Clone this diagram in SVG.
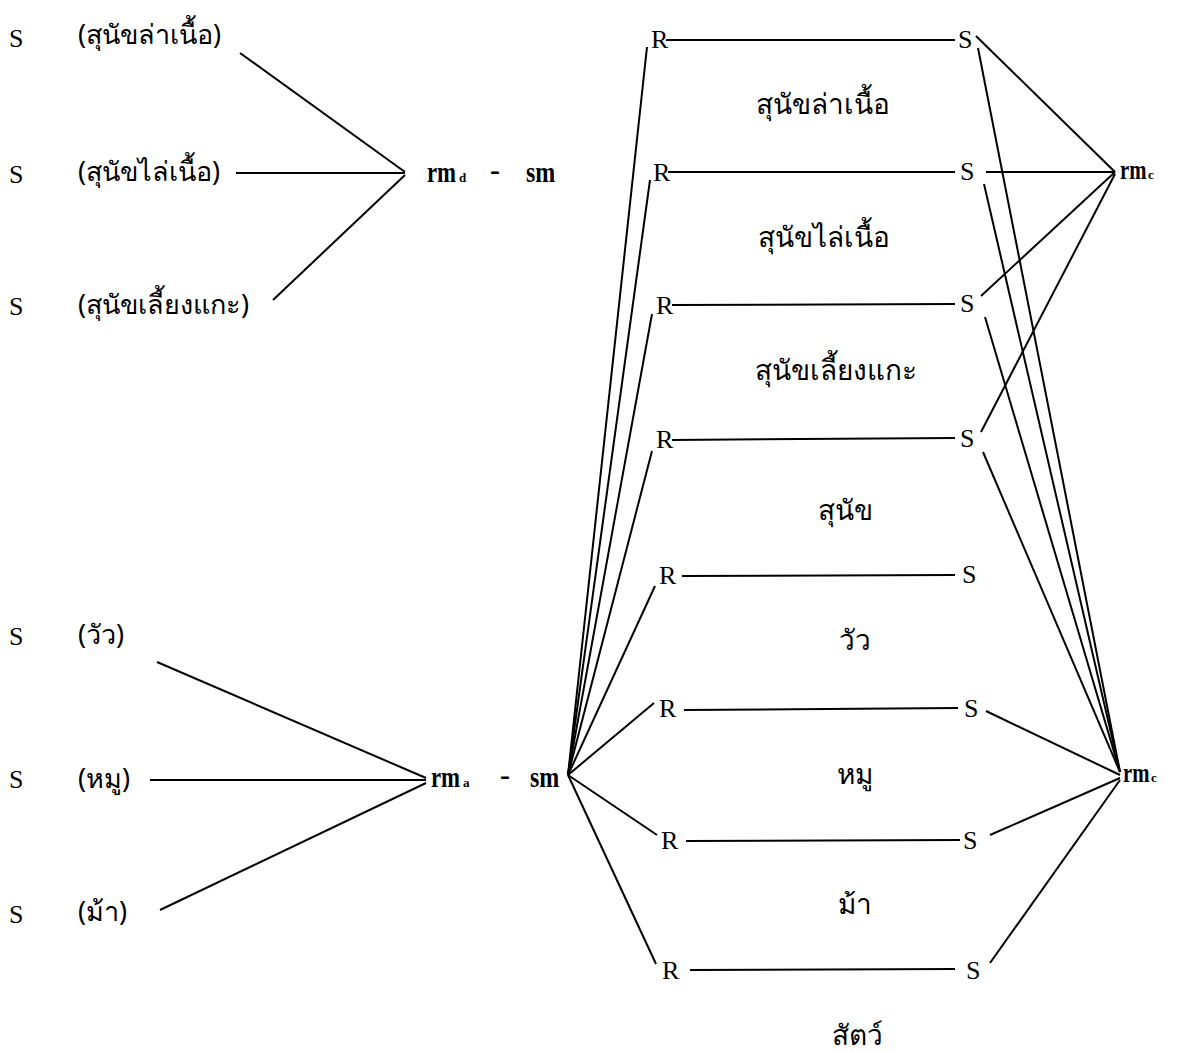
<svg xmlns="http://www.w3.org/2000/svg" width="1180" height="1053" viewBox="0 0 1180 1053">
<style>
.lat{font-family:"Liberation Serif","DejaVu Serif",serif;font-size:26px;fill:#000}
.rm{font-family:"Liberation Serif","DejaVu Serif",serif;font-size:30px;font-weight:bold;fill:#000}
.rmc{font-family:"Liberation Serif","DejaVu Serif",serif;font-size:28px;font-weight:bold;fill:#000}
.sub{font-family:"Liberation Serif","DejaVu Serif",serif;font-size:13px;font-weight:bold;fill:#000}
.th{font-family:"Noto Sans","DejaVu Sans","Liberation Sans",sans-serif;font-size:27px;fill:#000}
.thm{font-family:"Noto Sans","DejaVu Sans","Liberation Sans",sans-serif;font-size:28px;fill:#000;text-anchor:middle}
.ln{stroke:#000;stroke-width:2;fill:none}
</style>
<rect width="1180" height="1053" fill="#fff"/>
<g id="connectors" class="ln">
<line x1="240" y1="53" x2="405" y2="172"/>
<line x1="236" y1="173" x2="405" y2="173"/>
<line x1="273" y1="300" x2="405" y2="175"/>
<line x1="157" y1="662" x2="426" y2="778"/>
<line x1="150" y1="780" x2="426" y2="780"/>
<line x1="160" y1="910" x2="426" y2="783"/>
<line x1="666" y1="40" x2="955" y2="40"/>
<line x1="668" y1="172" x2="955" y2="172"/>
<line x1="672" y1="305" x2="955" y2="304"/>
<line x1="672" y1="440" x2="955" y2="438"/>
<line x1="682" y1="576" x2="955" y2="575"/>
<line x1="684" y1="710" x2="958" y2="708"/>
<line x1="686" y1="841" x2="960" y2="840"/>
<line x1="690" y1="970" x2="955" y2="969"/>
<line x1="568" y1="775" x2="647" y2="47"/>
<line x1="568" y1="775" x2="650" y2="180"/>
<line x1="568" y1="775" x2="652" y2="314"/>
<line x1="568" y1="775" x2="652" y2="451"/>
<line x1="568" y1="775" x2="655" y2="586"/>
<line x1="568" y1="775" x2="654" y2="703"/>
<line x1="568" y1="775" x2="657" y2="835"/>
<line x1="568" y1="775" x2="656" y2="964"/>
<line x1="976" y1="36" x2="1115" y2="172"/>
<line x1="986" y1="172" x2="1115" y2="172"/>
<line x1="981" y1="296" x2="1115" y2="172"/>
<line x1="981" y1="432" x2="1115" y2="174"/>
<line x1="978" y1="48" x2="1120" y2="772"/>
<line x1="984" y1="184" x2="1120" y2="772"/>
<line x1="985" y1="317" x2="1120" y2="772"/>
<line x1="983" y1="452" x2="1120" y2="772"/>
<line x1="986" y1="711" x2="1120" y2="775"/>
<line x1="990" y1="835" x2="1120" y2="778"/>
<line x1="990" y1="963" x2="1120" y2="780"/>
</g>
<g id="s-l1"><text class="lat" x="9" y="47">S</text></g>
<g id="s-l2"><text class="lat" x="9" y="183">S</text></g>
<g id="s-l3"><text class="lat" x="9" y="315">S</text></g>
<g id="s-l4"><text class="lat" x="9" y="645">S</text></g>
<g id="s-l5"><text class="lat" x="9" y="788">S</text></g>
<g id="s-l6"><text class="lat" x="9" y="923">S</text></g>
<g id="lab-l1"><text class="th" x="78" y="44">(สุนัขล่าเนื้อ)</text></g>
<g id="lab-l2"><text class="th" x="78" y="181">(สุนัขไล่เนื้อ)</text></g>
<g id="lab-l3"><text class="th" x="78" y="314">(สุนัขเลี้ยงแกะ)</text></g>
<g id="lab-l4"><text class="th" x="78" y="644">(วัว)</text></g>
<g id="lab-l5"><text class="th" x="78" y="788">(หมู)</text></g>
<g id="lab-l6"><text class="th" x="78" y="921">(ม้า)</text></g>
<g id="rmd-sm">
<text class="rm" transform="translate(427 182) scale(0.76 1)">rm</text>
<text class="sub" x="459" y="182">d</text>
<text class="rm" x="490" y="180">-</text>
<text class="rm" transform="translate(526 182) scale(0.8 1)">sm</text>
</g>
<g id="rma-sm">
<text class="rm" transform="translate(431 787) scale(0.76 1)">rm</text>
<text class="sub" x="463" y="787">a</text>
<text class="rm" x="500" y="785">-</text>
<text class="rm" transform="translate(530 787) scale(0.8 1)">sm</text>
</g>
<g id="R1"><text class="lat" x="651" y="48">R</text></g>
<g id="R2"><text class="lat" x="653" y="181">R</text></g>
<g id="R3"><text class="lat" x="656" y="314">R</text></g>
<g id="R4"><text class="lat" x="656" y="448">R</text></g>
<g id="R5"><text class="lat" x="659" y="584">R</text></g>
<g id="R6"><text class="lat" x="659" y="717">R</text></g>
<g id="R7"><text class="lat" x="661" y="849">R</text></g>
<g id="R8"><text class="lat" x="662" y="979">R</text></g>
<g id="S1"><text class="lat" x="958" y="48">S</text></g>
<g id="S2"><text class="lat" x="960" y="180">S</text></g>
<g id="S3"><text class="lat" x="960" y="312">S</text></g>
<g id="S4"><text class="lat" x="960" y="447">S</text></g>
<g id="S5"><text class="lat" x="962" y="583">S</text></g>
<g id="S6"><text class="lat" x="964" y="717">S</text></g>
<g id="S7"><text class="lat" x="963" y="849">S</text></g>
<g id="S8"><text class="lat" x="966" y="979">S</text></g>
<g id="lab-m1"><text class="thm" x="823" y="114">สุนัขล่าเนื้อ</text></g>
<g id="lab-m2"><text class="thm" x="824" y="247">สุนัขไล่เนื้อ</text></g>
<g id="lab-m3"><text class="thm" x="836" y="380">สุนัขเลี้ยงแกะ</text></g>
<g id="lab-m4"><text class="thm" x="845" y="520">สุนัข</text></g>
<g id="lab-m5"><text class="thm" x="855" y="650">วัว</text></g>
<g id="lab-m6"><text class="thm" x="855" y="784">หมู</text></g>
<g id="lab-m7"><text class="thm" x="855" y="914">ม้า</text></g>
<g id="lab-m8"><text class="thm" x="857" y="1045">สัตว์</text></g>
<g id="rmc1">
<text class="rmc" transform="translate(1120 179) scale(0.74 1)">rm</text>
<text class="sub" x="1148" y="179">c</text>
</g>
<g id="rmc2">
<text class="rmc" transform="translate(1123 782) scale(0.74 1)">rm</text>
<text class="sub" x="1151" y="782">c</text>
</g>
</svg>
